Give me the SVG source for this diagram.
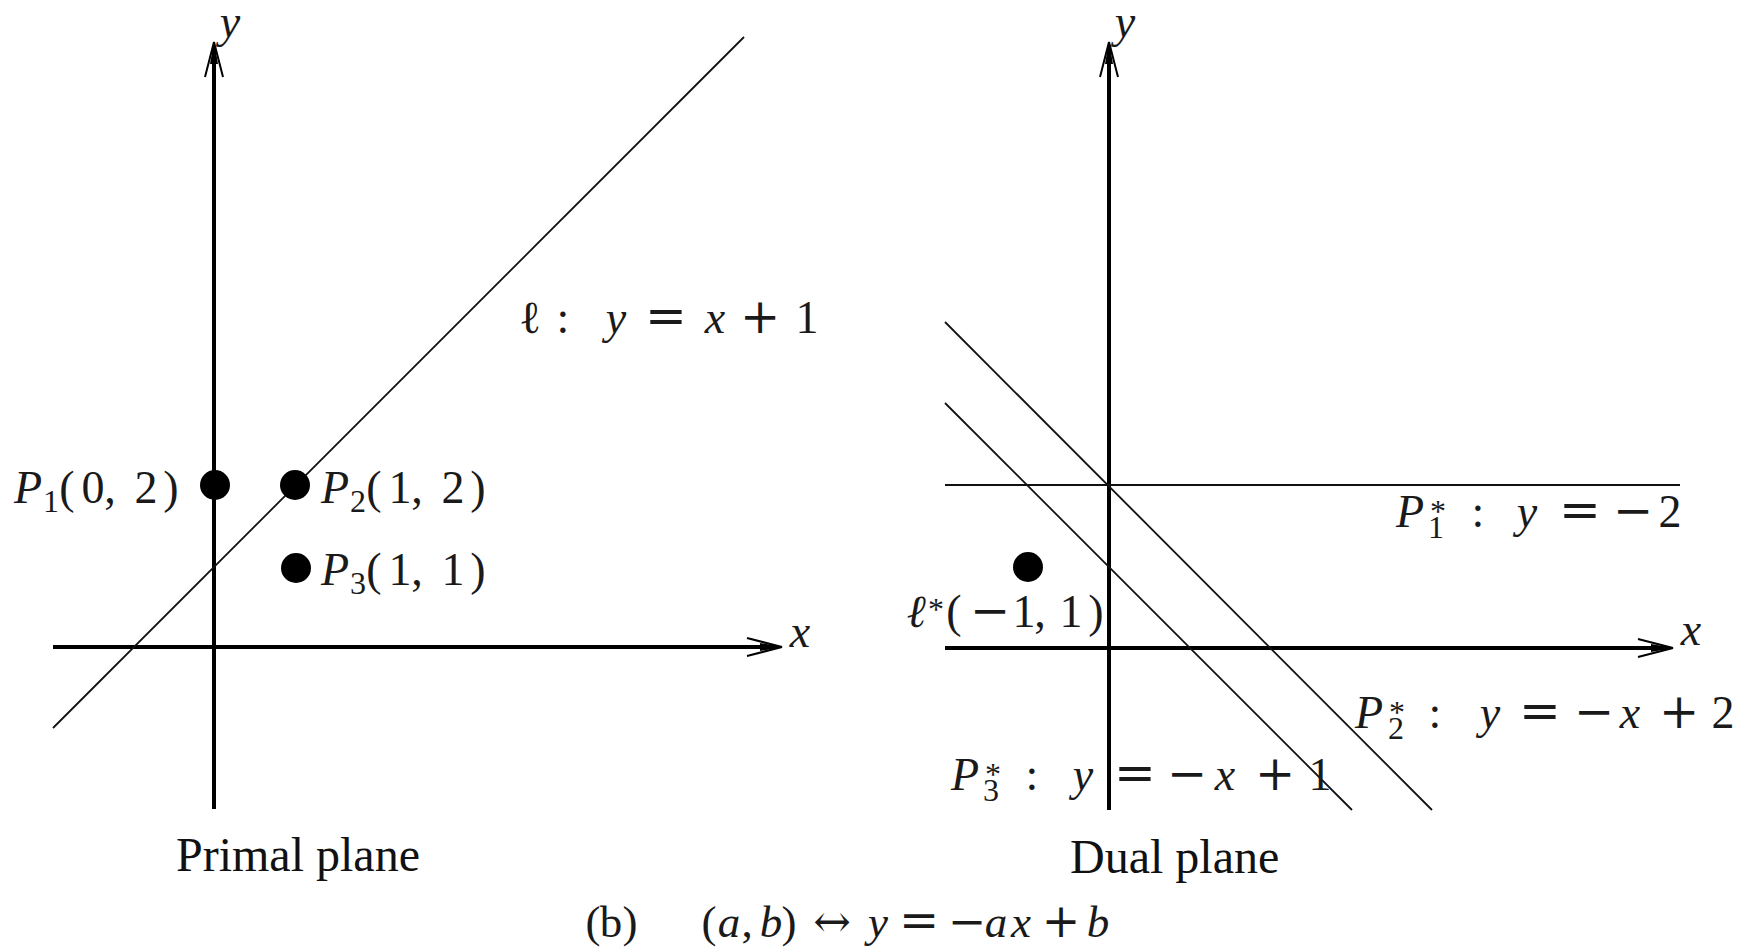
<svg xmlns="http://www.w3.org/2000/svg" xmlns:xlink="http://www.w3.org/1999/xlink" width="1754" height="952" viewBox="0 0 1754 952">
<style>
  .axis { stroke: #000; stroke-width: 4; fill: none; }
  .thin { stroke: #111; stroke-width: 1.8; fill: none; }
  .dot { fill: #000; }
  text { font-family: "Liberation Serif", "Times New Roman", serif; fill: #1a1a1a; text-anchor: middle; }
  .m { font-size: 46px; }
  .i { font-style: italic; }
  .s { font-size: 32px; }
  .op { font-family: "DejaVu Serif", "Liberation Serif", serif; font-size: 48px; }
  .eq { font-family: "DejaVu Serif", "Liberation Serif", serif; font-size: 50px; }
  .cap { font-size: 48px; fill: #111; text-anchor: start; }
  .cap2 { font-size: 45px; }
</style>
<defs>
  <g id="ah">
    <path d="M0,0 L-35,-9 M0,0 L-35,9" stroke="#000" stroke-width="2" fill="none"/>
    <path d="M1,0 L-22,-4 L-22,4 Z" fill="#000"/>
  </g>
</defs>
<rect width="1754" height="952" fill="#fff"/>

<g id="connectors">
  <line class="axis" x1="214" y1="809" x2="214" y2="46"/>
  <use xlink:href="#ah" transform="translate(214,42) rotate(-90)"/>
  <line class="axis" x1="53" y1="647" x2="778" y2="647"/>
  <use xlink:href="#ah" transform="translate(782,647)"/>
  <line class="thin" x1="53" y1="728" x2="744" y2="37"/>
  <line class="axis" x1="1109" y1="810" x2="1109" y2="46"/>
  <use xlink:href="#ah" transform="translate(1109,42) rotate(-90)"/>
  <line class="axis" x1="945" y1="648" x2="1669" y2="648"/>
  <use xlink:href="#ah" transform="translate(1673,648)"/>
  <line class="thin" x1="945" y1="485" x2="1680" y2="485"/>
  <line class="thin" x1="945" y1="322" x2="1432" y2="810"/>
  <line class="thin" x1="945" y1="403" x2="1352" y2="810"/>
</g>

<g id="axis-labels">
  <text class="m i" x="230" y="37">y</text>
  <text class="m i" x="800" y="647">x</text>
  <text class="m i" x="1125" y="37">y</text>
  <text class="m i" x="1691" y="645">x</text>
</g>

<g id="line-l-label">
  <text class="m"><tspan x="530" y="333">ℓ</tspan><tspan x="563" y="333">:</tspan><tspan class="i" x="616" y="333">y</tspan><tspan class="eq" x="666" y="333">=</tspan><tspan class="i" x="715" y="333">x</tspan><tspan class="op" x="760" y="333">+</tspan><tspan x="807" y="333">1</tspan></text>
</g>

<g id="P1">
  <circle class="dot" cx="215" cy="485" r="15"/>
  <text class="m"><tspan class="i" x="28" y="503">P</tspan><tspan class="s" x="51" y="512">1</tspan><tspan x="67" y="503">(</tspan><tspan x="93" y="503">0</tspan><tspan x="110" y="503">,</tspan><tspan x="146" y="503">2</tspan><tspan x="171" y="503">)</tspan></text>
</g>

<g id="P2">
  <circle class="dot" cx="295" cy="485" r="15"/>
  <text class="m"><tspan class="i" x="335" y="503">P</tspan><tspan class="s" x="358" y="512">2</tspan><tspan x="374" y="503">(</tspan><tspan x="400" y="503">1</tspan><tspan x="417" y="503">,</tspan><tspan x="453" y="503">2</tspan><tspan x="478" y="503">)</tspan></text>
</g>

<g id="P3">
  <circle class="dot" cx="296" cy="568" r="15"/>
  <text class="m"><tspan class="i" x="335" y="585">P</tspan><tspan class="s" x="358" y="594">3</tspan><tspan x="374" y="585">(</tspan><tspan x="400" y="585">1</tspan><tspan x="417" y="585">,</tspan><tspan x="453" y="585">1</tspan><tspan x="478" y="585">)</tspan></text>
</g>

<g id="l-star">
  <circle class="dot" cx="1028" cy="567" r="15"/>
  <text class="m"><tspan class="i" x="916" y="627">ℓ</tspan><tspan class="s" x="936" y="620">*</tspan><tspan x="954" y="627">(</tspan><tspan class="op" x="990" y="627">−</tspan><tspan x="1024" y="627">1</tspan><tspan x="1040" y="627">,</tspan><tspan x="1071" y="627">1</tspan><tspan x="1096" y="627">)</tspan></text>
</g>

<g id="P1-star">
  <text class="m"><tspan class="i" x="1410" y="527">P</tspan><tspan class="s" x="1436" y="538">1</tspan><tspan class="s" x="1438" y="522">*</tspan><tspan x="1478" y="527">:</tspan><tspan class="i" x="1527" y="527">y</tspan><tspan class="eq" x="1580" y="527">=</tspan><tspan class="op" x="1633" y="527">−</tspan><tspan x="1670" y="527">2</tspan></text>
</g>

<g id="P2-star">
  <text class="m"><tspan class="i" x="1369" y="728">P</tspan><tspan class="s" x="1396" y="739">2</tspan><tspan class="s" x="1397" y="723">*</tspan><tspan x="1435" y="728">:</tspan><tspan class="i" x="1490" y="728">y</tspan><tspan class="eq" x="1540" y="728">=</tspan><tspan class="op" x="1594" y="728">−</tspan><tspan class="i" x="1630" y="728">x</tspan><tspan class="op" x="1679" y="728">+</tspan><tspan x="1723" y="728">2</tspan></text>
</g>

<g id="P3-star">
  <text class="m"><tspan class="i" x="965" y="790">P</tspan><tspan class="s" x="991" y="801">3</tspan><tspan class="s" x="993" y="785">*</tspan><tspan x="1032" y="790">:</tspan><tspan class="i" x="1083" y="790">y</tspan><tspan class="eq" x="1135" y="790">=</tspan><tspan class="op" x="1187" y="790">−</tspan><tspan class="i" x="1225" y="790">x</tspan><tspan class="op" x="1275" y="790">+</tspan><tspan x="1320" y="790">1</tspan></text>
</g>

<g id="captions">
  <text class="cap" x="176" y="871">Primal plane</text>
  <text class="cap" x="1070" y="873">Dual plane</text>
  <text class="cap2"><tspan x="593" y="937">(</tspan><tspan x="611" y="937">b</tspan><tspan x="630" y="937">)</tspan><tspan x="709" y="937">(</tspan><tspan class="i" x="729" y="937">a</tspan><tspan x="747" y="937">,</tspan><tspan class="i" x="771" y="937">b</tspan><tspan x="789" y="937">)</tspan><tspan class="op" x="832" y="937" style="font-size:45px">↔</tspan><tspan class="i" x="878" y="937">y</tspan><tspan class="eq" x="919" y="937" style="font-size:48px">=</tspan><tspan class="op" x="967" y="937" style="font-size:46px">−</tspan><tspan class="i" x="996" y="937">a</tspan><tspan class="i" x="1021" y="937">x</tspan><tspan class="op" x="1061" y="937" style="font-size:46px">+</tspan><tspan class="i" x="1098" y="937">b</tspan></text>
</g>
</svg>
